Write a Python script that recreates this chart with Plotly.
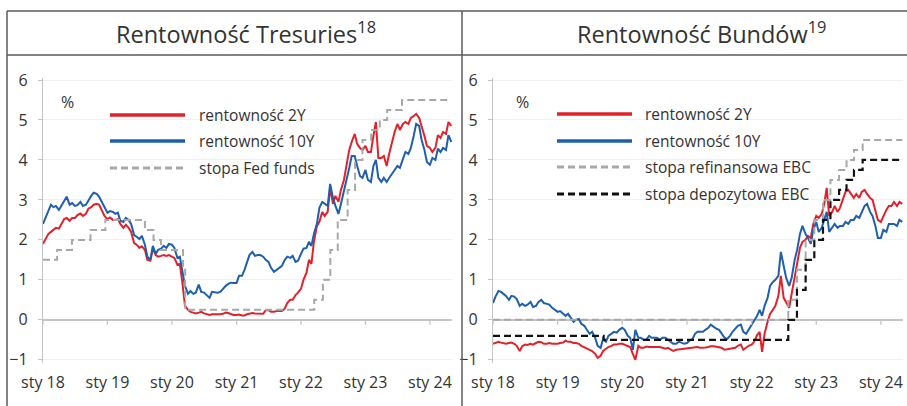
import pandas as pd
import plotly.graph_objects as go

W, H = 907, 406

# Semi-monthly readings (1st and 15th of each month), starting 1 Jan 2018
us_2y = [
    1.90, 2.00, 2.15, 2.20, 2.25, 2.30, 2.28, 2.40, 2.52, 2.55, 2.48, 2.55,
    2.55, 2.62, 2.66, 2.60, 2.65, 2.78, 2.82, 2.88, 2.90, 2.88, 2.75, 2.60,
    2.52, 2.56, 2.50, 2.50, 2.52, 2.40, 2.30, 2.38, 2.30, 2.20, 1.92, 1.88,
    1.80, 1.84, 1.75, 1.50, 1.48, 1.78, 1.62, 1.58, 1.60, 1.62, 1.60, 1.62,
    1.58, 1.55, 1.38, 1.40, 0.90, 0.35, 0.25, 0.20, 0.18, 0.16, 0.18, 0.20,
    0.16, 0.15, 0.12, 0.14, 0.14, 0.13, 0.14, 0.15, 0.18, 0.17, 0.15, 0.12,
    0.12, 0.13, 0.11, 0.11, 0.14, 0.15, 0.17, 0.16, 0.16, 0.15, 0.15, 0.24,
    0.24, 0.20, 0.20, 0.22, 0.22, 0.22, 0.28, 0.42, 0.50, 0.50, 0.62, 0.68,
    0.78, 1.00, 1.18, 1.50, 1.40, 1.95, 2.35, 2.45, 2.70, 2.60, 2.70, 3.30,
    2.90, 3.10, 2.95, 3.25, 3.50, 3.90, 4.25, 4.45, 4.65, 4.40, 4.30, 4.25,
    4.35, 4.20, 4.20, 4.60, 4.95, 4.05, 4.05, 4.10, 3.85, 4.15, 4.45, 4.70,
    4.90, 4.75, 4.90, 4.95, 4.90, 5.05, 5.10, 5.15, 5.05, 4.85, 4.60, 4.35,
    4.30, 4.20, 4.30, 4.62, 4.55, 4.70, 4.65, 4.95, 4.85,
]
us_10y = [
    2.40, 2.55, 2.75, 2.88, 2.82, 2.85, 2.75, 2.85, 2.95, 3.08, 2.88, 2.92,
    2.85, 2.87, 2.95, 2.85, 2.88, 3.00, 3.10, 3.18, 3.15, 3.08, 2.95, 2.80,
    2.68, 2.72, 2.70, 2.65, 2.68, 2.48, 2.45, 2.55, 2.50, 2.40, 2.12, 2.08,
    2.02, 2.10, 1.88, 1.58, 1.50, 1.85, 1.65, 1.75, 1.78, 1.85, 1.80, 1.90,
    1.88, 1.80, 1.55, 1.58, 1.15, 0.85, 0.65, 0.72, 0.65, 0.68, 0.88, 0.70,
    0.68, 0.62, 0.55, 0.70, 0.68, 0.68, 0.70, 0.78, 0.85, 0.90, 0.93, 0.92,
    0.92, 1.10, 1.10, 1.25, 1.45, 1.62, 1.70, 1.60, 1.62, 1.62, 1.58, 1.50,
    1.45, 1.30, 1.20, 1.25, 1.30, 1.35, 1.50, 1.58, 1.55, 1.60, 1.45, 1.48,
    1.65, 1.78, 1.80, 1.95, 1.85, 2.15, 2.40, 2.80, 2.95, 2.90, 2.85, 3.40,
    3.05, 2.85, 2.65, 2.90, 3.20, 3.45, 3.80, 4.10, 4.10, 3.85, 3.60, 3.55,
    3.75, 3.50, 3.45, 3.85, 4.00, 3.55, 3.45, 3.55, 3.45, 3.55, 3.65, 3.75,
    3.85, 3.80, 4.05, 4.20, 4.15, 4.30, 4.60, 4.90, 4.85, 4.50, 4.25, 3.95,
    3.88, 4.05, 4.00, 4.28, 4.20, 4.30, 4.25, 4.62, 4.45,
]
de_2y = [
    -0.60, -0.58, -0.55, -0.57, -0.58, -0.60, -0.58, -0.57, -0.60, -0.65, -0.78, -0.66,
    -0.62, -0.63, -0.60, -0.62, -0.58, -0.55, -0.56, -0.60, -0.60, -0.58, -0.60, -0.60,
    -0.60, -0.58, -0.57, -0.52, -0.55, -0.55, -0.58, -0.58, -0.60, -0.65, -0.68, -0.72,
    -0.75, -0.78, -0.85, -0.95, -0.90, -0.78, -0.72, -0.68, -0.65, -0.62, -0.62, -0.60,
    -0.60, -0.62, -0.65, -0.68, -0.85, -1.00, -0.65, -0.70, -0.70, -0.67, -0.68, -0.68,
    -0.68, -0.67, -0.68, -0.70, -0.72, -0.70, -0.75, -0.78, -0.75, -0.74, -0.73, -0.72,
    -0.72, -0.70, -0.70, -0.68, -0.68, -0.70, -0.70, -0.69, -0.68, -0.66, -0.66, -0.67,
    -0.68, -0.70, -0.75, -0.74, -0.72, -0.70, -0.70, -0.65, -0.62, -0.75, -0.70, -0.65,
    -0.62, -0.55, -0.38, -0.30, -0.80, -0.35, -0.05, 0.15, 0.25, 0.35, 0.60, 1.10,
    0.55, 0.45, 0.30, 0.65, 1.05, 1.40, 1.80, 1.95, 2.00, 2.10, 2.05, 2.40,
    2.60, 2.55, 2.65, 2.90, 3.30, 2.60, 2.70, 2.85, 2.70, 2.80, 3.00, 3.20,
    3.25, 3.15, 3.05, 3.15, 3.05, 3.20, 3.25, 3.15, 3.05, 3.00, 2.75, 2.50,
    2.45, 2.60, 2.75, 2.85, 2.85, 2.95, 2.85, 2.95, 2.90,
]
de_10y = [
    0.42, 0.58, 0.72, 0.70, 0.65, 0.60, 0.50, 0.60, 0.58, 0.52, 0.35, 0.40,
    0.35, 0.38, 0.45, 0.32, 0.35, 0.45, 0.50, 0.42, 0.40, 0.38, 0.30, 0.25,
    0.20, 0.22, 0.15, 0.10, 0.15, 0.05, -0.05, 0.00, 0.02, -0.10, -0.15, -0.25,
    -0.35, -0.30, -0.45, -0.65, -0.70, -0.48, -0.55, -0.40, -0.35, -0.30, -0.32, -0.25,
    -0.20, -0.25, -0.40, -0.45, -0.75, -0.25, -0.45, -0.45, -0.50, -0.50, -0.40, -0.45,
    -0.45, -0.45, -0.50, -0.45, -0.45, -0.50, -0.55, -0.60, -0.60, -0.55, -0.57, -0.60,
    -0.58, -0.52, -0.48, -0.35, -0.30, -0.30, -0.30, -0.25, -0.20, -0.12, -0.18, -0.22,
    -0.25, -0.35, -0.45, -0.48, -0.40, -0.30, -0.22, -0.15, -0.12, -0.30, -0.35, -0.25,
    -0.10, 0.00, 0.10, 0.25, 0.10, 0.35, 0.55, 0.85, 0.95, 1.00, 1.10, 1.70,
    1.30, 1.05, 0.85, 1.05, 1.50, 1.75, 2.15, 2.35, 2.15, 2.05, 1.90, 2.25,
    2.45, 2.20, 2.30, 2.50, 2.70, 2.20, 2.30, 2.40, 2.30, 2.35, 2.35, 2.45,
    2.40, 2.50, 2.50, 2.60, 2.55, 2.70, 2.85, 2.90, 2.70, 2.60, 2.35, 2.05,
    2.05, 2.25, 2.20, 2.40, 2.40, 2.40, 2.35, 2.50, 2.45,
]

# Policy rates (step changes)
fed_dates = ["2018-01-01", "2018-03-22", "2018-06-14", "2018-09-27", "2018-12-20",
             "2019-08-01", "2019-09-19", "2019-10-31", "2020-03-04", "2020-03-16",
             "2022-03-17", "2022-05-05", "2022-06-16", "2022-07-28", "2022-09-22",
             "2022-11-03", "2022-12-15", "2023-02-02", "2023-03-23", "2023-05-04",
             "2023-07-27", "2024-05-01"]
fed_rate = [1.5, 1.75, 2.0, 2.25, 2.5, 2.25, 2.0, 1.75, 1.25, 0.25,
            0.5, 1.0, 1.75, 2.5, 3.25, 4.0, 4.5, 4.75, 5.0, 5.25, 5.5, 5.5]

mro_dates = ["2018-01-01", "2022-07-27", "2022-09-14", "2022-11-02", "2022-12-21",
             "2023-02-08", "2023-03-22", "2023-05-10", "2023-06-21", "2023-08-02",
             "2023-09-20", "2024-05-01"]
mro_rate = [0.0, 0.5, 1.25, 2.0, 2.5, 3.0, 3.5, 3.75, 4.0, 4.25, 4.5, 4.5]

dep_dates = ["2018-01-01", "2019-09-18", "2022-07-27", "2022-09-14", "2022-11-02",
             "2022-12-21", "2023-02-08", "2023-03-22", "2023-05-10", "2023-06-21",
             "2023-08-02", "2023-09-20", "2024-05-01"]
dep_rate = [-0.4, -0.5, 0.0, 0.75, 1.5, 2.0, 2.5, 3.0, 3.25, 3.5, 3.75, 4.0, 4.0]

tick_dates = ["2018-01-01", "2019-01-01", "2020-01-01", "2021-01-01",
              "2022-01-01", "2023-01-01", "2024-01-01"]
tick_text = ["sty 18", "sty 19", "sty 20", "sty 21", "sty 22", "sty 23", "sty 24"]
y_ticks = [-1, 0, 1, 2, 3, 4, 5, 6]

RED = "#e1222b"
BLUE = "#1f5fae"
GREY = "#a8a8a8"
BLACK = "#111111"
TXT = "#333333"
FONT = "Open Sans"
DASH = "7px,4px"


def px(x):
    return x / W


def py(y):
    return 1 - y / H


def semi_monthly(values):
    return pd.date_range("2018-01-01", periods=len(values), freq="SMS")


fig = go.Figure()

# left panel: US
fig.add_trace(go.Scatter(x=semi_monthly(us_2y), y=us_2y, mode="lines",
                         line=dict(color=RED, width=2), xaxis="x", yaxis="y"))
fig.add_trace(go.Scatter(x=semi_monthly(us_10y), y=us_10y, mode="lines",
                         line=dict(color=BLUE, width=2), xaxis="x", yaxis="y"))
fig.add_trace(go.Scatter(x=fed_dates, y=fed_rate, mode="lines", line_shape="hv",
                         line=dict(color=GREY, width=2, dash=DASH), xaxis="x", yaxis="y"))

# right panel: Germany
fig.add_trace(go.Scatter(x=semi_monthly(de_2y), y=de_2y, mode="lines",
                         line=dict(color=RED, width=2), xaxis="x2", yaxis="y2"))
fig.add_trace(go.Scatter(x=semi_monthly(de_10y), y=de_10y, mode="lines",
                         line=dict(color=BLUE, width=2), xaxis="x2", yaxis="y2"))
fig.add_trace(go.Scatter(x=mro_dates, y=mro_rate, mode="lines", line_shape="hv",
                         line=dict(color=GREY, width=2, dash=DASH), xaxis="x2", yaxis="y2"))
fig.add_trace(go.Scatter(x=dep_dates, y=dep_rate, mode="lines", line_shape="hv",
                         line=dict(color=BLACK, width=2.2, dash=DASH), xaxis="x2", yaxis="y2"))

x_range = ["2018-01-01", "2024-05-05"]
y_dom = [py(363), py(78)]

xaxis_style = dict(
    range=x_range, tickvals=tick_dates, ticktext=tick_text, showgrid=False,
    showline=False, zeroline=False, ticks="", ticklabelstandoff=8,
    automargin=False,
    tickfont=dict(family=FONT, size=16, color=TXT),
)
yaxis_style = dict(
    range=[-1.08, 6.05], tickvals=y_ticks, showgrid=True, gridcolor="#f1f1f1",
    showline=True, linecolor="#c4c4c4", linewidth=1.3, ticks="outside",
    ticklen=4, tickcolor="#c4c4c4", ticklabelstandoff=7, automargin=False,
    zeroline=True, zerolinecolor="#c4c4c4", zerolinewidth=1.5,
    tickfont=dict(family=FONT, size=16, color=TXT),
)

fig.update_layout(
    width=W, height=H,
    margin=dict(l=0, r=0, t=0, b=0, pad=0, autoexpand=False),
    paper_bgcolor="white", plot_bgcolor="white",
    showlegend=False,
    xaxis=dict(domain=[px(43), px(452)], anchor="y", **xaxis_style),
    yaxis=dict(domain=y_dom, anchor="x", **yaxis_style),
    xaxis2=dict(domain=[px(493), px(903)], anchor="y2", **xaxis_style),
    yaxis2=dict(domain=y_dom, anchor="x2", **yaxis_style),
)

# small tick marks hanging from the zero line
for xa, ya in [("x", "y"), ("x2", "y2")]:
    for d in tick_dates:
        fig.add_shape(type="line", xref=xa, yref=ya, ysizemode="pixel", yanchor=0,
                      x0=d, x1=d, y0=0, y1=-5, line=dict(color="#c4c4c4", width=1.3))

# frame lines
frame = dict(color="#5a5a5a", width=1.5)
fig.add_shape(type="line", xref="paper", yref="paper", x0=px(7), x1=1, y0=py(11), y1=py(11), line=frame)
fig.add_shape(type="line", xref="paper", yref="paper", x0=px(7), x1=1, y0=py(55), y1=py(55), line=frame)
fig.add_shape(type="line", xref="paper", yref="paper", x0=px(7), x1=px(7), y0=py(11), y1=0, line=frame)
fig.add_shape(type="line", xref="paper", yref="paper", x0=px(462), x1=px(462), y0=py(11), y1=0, line=frame)

# panel titles
for cx, title in [(246, "Rentowność Tresuries<sup>18</sup>"), (702, "Rentowność Bundów<sup>19</sup>")]:
    fig.add_annotation(x=px(cx), y=py(33), xref="paper", yref="paper", text=title,
                       showarrow=False, xanchor="center", yanchor="middle",
                       font=dict(family=FONT, size=23.5, color=TXT))

# "%" labels
for cx in [67, 522]:
    fig.add_annotation(x=px(cx), y=py(102), xref="paper", yref="paper", text="%",
                       showarrow=False, xanchor="center", yanchor="middle",
                       font=dict(family=FONT, size=16, color=TXT))

# hand-drawn legends
legends = [
    (110, 185, 197, [(115, "rentowność 2Y", RED, None),
                     (141, "rentowność 10Y", BLUE, None),
                     (168, "stopa Fed funds", GREY, DASH)]),
    (557, 632, 643, [(114, "rentowność 2Y", RED, None),
                     (141, "rentowność 10Y", BLUE, None),
                     (167, "stopa refinansowa EBC", GREY, DASH),
                     (194, "stopa depozytowa EBC", BLACK, DASH)]),
]
for x0, x1, tx, rows in legends:
    for ry, label, color, dash in rows:
        fig.add_shape(type="line", xref="paper", yref="paper",
                      x0=px(x0), x1=px(x1), y0=py(ry), y1=py(ry),
                      line=dict(color=color, width=3.5 if dash is None else 3, dash=dash or "solid"))
        fig.add_annotation(x=px(tx), y=py(ry), xref="paper", yref="paper", text=label,
                           showarrow=False, xanchor="left", yanchor="middle",
                           font=dict(family=FONT, size=15.5, color=TXT))

# page body has a default 8px margin; drop it so the figure sits at the window origin
fig.write_html("out.html", config={"displayModeBar": False},
               post_script="document.body.style.margin = '0';")
